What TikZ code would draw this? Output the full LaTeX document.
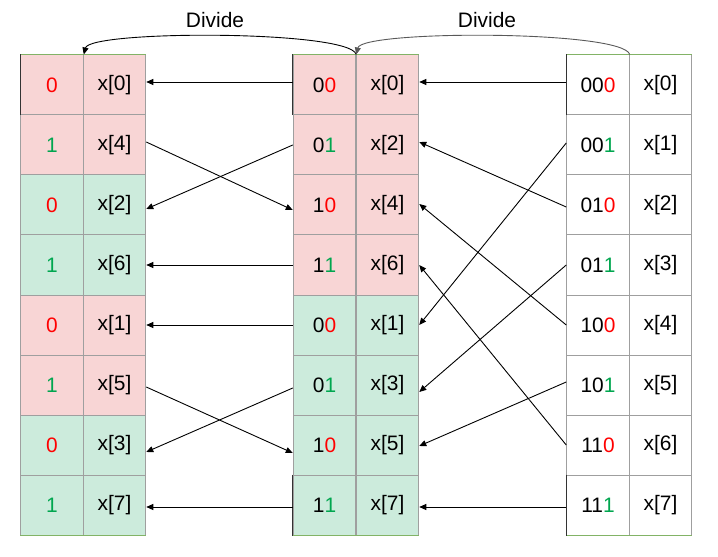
\documentclass[tikz,border=0pt]{standalone}
\usepackage{fontspec}
\setmainfont{Liberation Sans}
\usetikzlibrary{arrows.meta,positioning}
\definecolor{cellred}{HTML}{F8D5D5}
\definecolor{cellgreen}{HTML}{CCEBDC}
\definecolor{bitred}{HTML}{FF0000}
\definecolor{bitgreen}{HTML}{00A64F}
\definecolor{rimgreen}{HTML}{82B366}
\newcommand{\bitzero}{\textcolor{bitred}{0}}
\newcommand{\bitone}{\textcolor{bitgreen}{1}}
\tikzset{
  cell/.style  = { draw=gray!75, line width=1bp, minimum width=62.5bp, minimum height=60bp,
    inner sep=0pt, font=\fontsize{21}{25}\selectfont },
  pk/.style    = { cell, fill=cellred },
  gn/.style    = { cell, fill=cellgreen },
  wt/.style    = { cell, fill=white },
  flow/.style  = { -{Triangle[length=7bp,width=6bp]}, line width=0.9bp },
  rim/.style   = { rimgreen, line width=1.2bp },
  dark/.style  = { black!80, line width=1bp },
  lbl/.style   = { font=\fontsize{21}{25}\selectfont }
}

\begin{document}
\begin{tikzpicture}[x=1bp,y=-1bp,node distance=62.5bp,on grid]
    \useasboundingbox (0,0) rectangle (718,557);
    % left column: last bit after the second split
    \foreach \i/\fil/\bits/\val in {0/pk/\bitzero/0, 1/pk/\bitone/4, 2/gn/\bitzero/2, 3/gn/\bitone/6,
                                    4/pk/\bitzero/1, 5/pk/\bitone/5, 6/gn/\bitzero/3, 7/gn/\bitone/7} {
      \node[\fil] (lb\i) at (52,{85+60*\i}) {\bits};
      \node[\fil, right=of lb\i] (lv\i) {x[\val]};
    }
    % middle column
    \foreach \i/\fil/\bits/\val in {0/pk/0\bitzero/0, 1/pk/0\bitone/2, 2/pk/1\bitzero/4, 3/pk/1\bitone/6,
                                    4/gn/0\bitzero/1, 5/gn/0\bitone/3, 6/gn/1\bitzero/5, 7/gn/1\bitone/7} {
      \node[\fil] (mb\i) at (324.5,{85+60*\i}) {\bits};
      \node[\fil, right=63bp of mb\i] (mv\i) {x[\val]};
    }
    % right column: the input order
    \foreach \i/\bits in {0/00\bitzero, 1/00\bitone, 2/01\bitzero, 3/01\bitone,
                          4/10\bitzero, 5/10\bitone, 6/11\bitzero, 7/11\bitone} {
      \node[wt] (rb\i) at (598,{85+60*\i}) {\bits};
      \node[wt, right=of rb\i] (rv\i) {x[\i]};
    }
    % green rims and dark edges
    \draw[rim] (lb0.north west) -- (lv0.north east);
    \draw[rim] (lb7.south west) -- (lv7.south east);
    \draw[rim] (mb0.north west) -- (mv0.north east);
    \draw[rim] (mb7.south west) -- (mv7.south east);
    \draw[rim] (rb0.north west) -- (rv0.north east);
    \draw[rim] (rb7.south west) -- (rv7.south east);
    \draw[dark] (lb0.north west) -- (lb0.south west);
    \draw[dark] (mb0.north west) -- (mb0.south west);
    \draw[dark] (mb7.north west) -- (mb7.south west);
    \draw[dark] (rb0.north west) -- (rb0.south west);
    \draw[dark] (rb7.north west) -- (rb7.south west);

    % middle -> left
    \draw[flow] ([yshift=3bp]mb0.west) -- ([yshift=3bp]lv0.east);
    \draw[flow] (mb1.west) -- ([yshift=-4bp]lv2.east);
    \draw[flow] ([yshift=3bp]lv1.east) -- ([yshift=-5bp]mb2.west);
    \draw[flow] (mb3.west) -- (lv3.east);
    \draw[flow] (mb4.west) -- (lv4.east);
    \draw[flow] ([yshift=-3bp]mb5.west) -- ([yshift=-7bp]lv6.east);
    \draw[flow] ([yshift=-2bp]lv5.east) -- ([yshift=-8bp]mb6.west);
    \draw[flow] ([yshift=-2bp]mb7.west) -- ([yshift=-2bp]lv7.east);

    % right -> middle
    \draw[flow] ([yshift=3bp]rb0.west) -- ([yshift=3bp]mv0.east);
    \draw[flow] ([yshift=2bp]rb1.west) -- (mv4.east);
    \draw[flow] ([yshift=-2bp]rb2.west) -- ([yshift=3bp]mv1.east);
    \draw[flow] (rb3.west) -- ([yshift=-7bp]mv5.east);
    \draw[flow] (rb4.west) -- ([yshift=1bp]mv2.east);
    \draw[flow] ([yshift=3bp]rb5.west) -- ([yshift=-1bp]mv6.east);
    \draw[flow] (rb6.west) -- (mv3.east);
    \draw[flow] ([yshift=-2bp]rb7.west) -- ([yshift=-2bp]mv7.east);

    % divide arcs
    \draw[flow] (mb0.north east) .. controls (350,30) and (90,30) .. (lb0.north east);
    \draw[flow, gray!70!black] (rb0.north east) .. controls (623,30) and (362,30) .. (mb0.north east);
    \node[lbl] (divl) at (215,20) {Divide};
    \node[lbl] (divr) at (487,20) {Divide};
\end{tikzpicture}
\end{document}
